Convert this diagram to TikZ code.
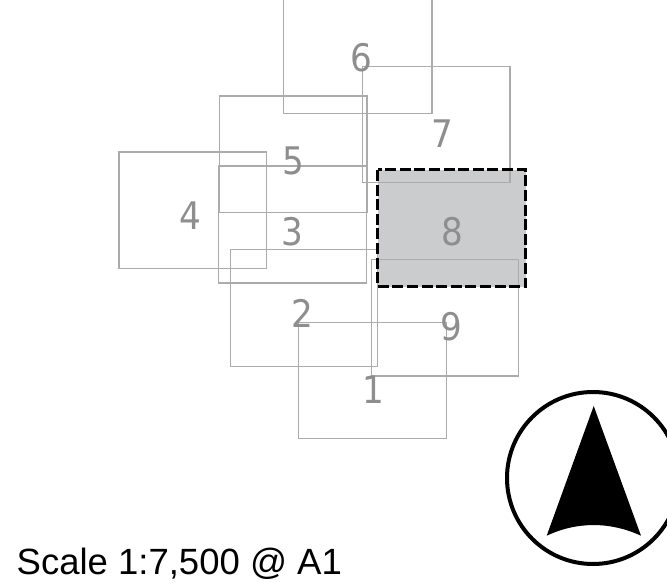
\documentclass[tikz,border=0pt]{standalone}
\usepackage{fontspec}
\setmainfont{Liberation Sans}
\newfontfamily\digitfont{DejaVu Sans}
\definecolor{plotline}{HTML}{ABABAB}
\definecolor{plotnum}{HTML}{8E8E8E}
\definecolor{plotfill}{HTML}{CBCCCE}
\tikzset{
  plot/.style={draw=plotline,line width=1.2pt},
  selected/.style={draw=black,line width=3pt,dash pattern=on 11pt off 3.6pt,line join=miter},
  selectedfill/.style={fill=plotfill},
  num/.style={text=plotnum,inner sep=0pt,anchor=center,font=\digitfont\fontsize{38}{38}\selectfont,xscale=.9},
}
\begin{document}
\begin{tikzpicture}[x=1pt,y=-1pt]
\useasboundingbox (0,0) rectangle (667,585);
\clip (0,0) rectangle (667,585);
\fill[white] (0,0) rectangle (667,585);
\fill[selectedfill] (377.7,170) rectangle (525.7,286.7);
\draw[plot] (371.7,259.7) rectangle (518.7,376);
\draw[plot] (230.3,249.7) rectangle (377.7,366.3);
\draw[plot] (218.7,166) rectangle (366.3,283);
\draw[plot] (119,152) rectangle (266.3,268.3);
\draw[plot] (219.3,96) rectangle (367,212.3);
\draw[plot] (283.7,-5) rectangle (432,113.3);
\draw[plot] (362.3,66.3) rectangle (510,182.7);
\draw[plot] (298.3,322.7) rectangle (446.3,438.3);
\draw[selected] (377.7,170) rectangle (525.7,286.7);
\node[num] (n1) at (373,390) {1};
\node[num] (n2) at (302.5,313.3) {2};
\node[num] (n3) at (292.5,231.7) {3};
\node[num] (n4) at (190.5,215.5) {4};
\node[num] (n5) at (293.5,160.8) {5};
\node[num] (n6) at (361,57.5) {6};
\node[num] (n7) at (442,134) {7};
\node[num] (n8) at (452.5,232) {8};
\node[num] (n9) at (451.5,326.7) {9};
\draw[black,line width=4pt] (593,478) circle (86);
\fill[black] (593.7,406) -- (641,535.7) .. controls (610,521.5) and (577,521.5) .. (546.7,535.7) -- cycle;
\node[anchor=base west,inner sep=0pt,font=\fontsize{36.5}{36.5}\selectfont] (scale) at (16.5,574) {Scale 1:7,500 @ A1};
\end{tikzpicture}
\end{document}
